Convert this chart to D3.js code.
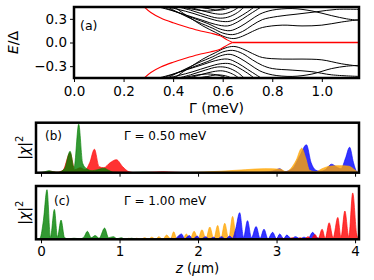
<!DOCTYPE html>
<html>
<head>
<meta charset="utf-8">
<script src="https://cdn.jsdelivr.net/npm/d3@7"></script>
<style>
  body { margin: 0; background: #fff; }
  svg { display: block; font-family: "DejaVu Sans", sans-serif; }
</style>
</head>
<body>
<svg id="chart" width="374" height="280"></svg>
<script>
// ---- panel (a): spectrum E/Delta vs Gamma ----
const gammaTicks = [0.0, 0.2, 0.4, 0.6, 0.8, 1.0];
const energyTicks = [-0.3, 0.0, 0.3];

// bulk states, [Gamma, E]
const upperBands = [
  [[0.40,0.46],[0.46,0.33],[0.52,0.21],[0.57,0.13],[0.61,0.07],[0.645,0.05],[0.68,0.08],[0.72,0.14],[0.76,0.19],[0.84,0.22],[0.92,0.21],[1.0,0.22],[1.08,0.26],[1.15,0.29]],
  [[0.37,0.46],[0.44,0.35],[0.50,0.26],[0.56,0.18],[0.60,0.12],[0.64,0.10],[0.68,0.14],[0.72,0.22],[0.76,0.29],[0.82,0.33],[0.90,0.36],[0.98,0.39],[1.06,0.42],[1.15,0.42]],
  [[0.35,0.46],[0.42,0.38],[0.48,0.31],[0.54,0.24],[0.59,0.17],[0.63,0.15],[0.67,0.20],[0.71,0.28],[0.75,0.36],[0.80,0.41],[0.88,0.43],[0.96,0.40],[1.04,0.34],[1.10,0.30],[1.15,0.28]],
  [[0.33,0.46],[0.40,0.40],[0.46,0.34],[0.52,0.28],[0.57,0.23],[0.62,0.21],[0.66,0.26],[0.70,0.34],[0.74,0.42],[0.76,0.46]],
  [[0.36,0.46],[0.42,0.42],[0.48,0.37],[0.54,0.31],[0.59,0.27],[0.63,0.27],[0.67,0.33],[0.71,0.41],[0.73,0.46]],
  [[0.41,0.46],[0.47,0.41],[0.53,0.35],[0.58,0.31],[0.62,0.32],[0.66,0.38],[0.69,0.46]],
  [[0.45,0.46],[0.51,0.41],[0.56,0.37],[0.60,0.36],[0.64,0.40],[0.67,0.46]],
  [[0.49,0.46],[0.54,0.43],[0.58,0.41],[0.62,0.43],[0.64,0.46]],
  [[0.38,0.46],[0.45,0.44],[0.50,0.41],[0.55,0.40],[0.60,0.43],[0.62,0.46]],
  [[0.47,0.46],[0.53,0.44],[0.58,0.46]]
];
const lowerBands = [
  [[0.40,-0.46],[0.46,-0.33],[0.52,-0.21],[0.57,-0.13],[0.61,-0.07],[0.645,-0.05],[0.68,-0.08],[0.72,-0.14],[0.76,-0.19],[0.84,-0.21],[0.92,-0.21],[1.0,-0.22],[1.08,-0.27],[1.15,-0.30]],
  [[0.37,-0.46],[0.44,-0.35],[0.50,-0.26],[0.56,-0.18],[0.60,-0.12],[0.64,-0.10],[0.68,-0.14],[0.72,-0.22],[0.76,-0.29],[0.80,-0.33],[0.88,-0.35],[0.96,-0.37],[1.04,-0.41],[1.15,-0.43]],
  [[0.35,-0.46],[0.42,-0.38],[0.48,-0.31],[0.54,-0.24],[0.59,-0.17],[0.63,-0.15],[0.67,-0.20],[0.71,-0.28],[0.75,-0.36],[0.80,-0.41],[0.88,-0.43],[0.96,-0.40],[1.04,-0.33],[1.10,-0.30],[1.15,-0.29]],
  [[0.33,-0.46],[0.40,-0.40],[0.46,-0.34],[0.52,-0.28],[0.57,-0.23],[0.62,-0.21],[0.66,-0.26],[0.70,-0.34],[0.74,-0.42],[0.76,-0.46]],
  [[0.36,-0.46],[0.42,-0.42],[0.48,-0.37],[0.54,-0.31],[0.59,-0.27],[0.63,-0.27],[0.67,-0.33],[0.71,-0.41],[0.73,-0.46]],
  [[0.41,-0.46],[0.47,-0.41],[0.53,-0.35],[0.58,-0.31],[0.62,-0.32],[0.66,-0.38],[0.69,-0.46]],
  [[0.45,-0.46],[0.51,-0.41],[0.56,-0.37],[0.60,-0.36],[0.64,-0.40],[0.67,-0.46]],
  [[0.49,-0.46],[0.54,-0.43],[0.58,-0.41],[0.62,-0.43],[0.64,-0.46]],
  [[0.38,-0.46],[0.45,-0.44],[0.50,-0.41],[0.55,-0.40],[0.60,-0.43],[0.62,-0.46]],
  [[0.47,-0.46],[0.53,-0.44],[0.58,-0.46]]
];
// lowest (Majorana) states
const redUpper = [[0.28,0.46],[0.31,0.38],[0.35,0.31],[0.40,0.25],[0.45,0.20],[0.50,0.155],[0.55,0.12],[0.59,0.085],[0.62,0.03],[0.64,0.0]];
const redLower = [[0.28,-0.46],[0.31,-0.38],[0.35,-0.31],[0.40,-0.25],[0.45,-0.20],[0.50,-0.155],[0.55,-0.12],[0.59,-0.085],[0.62,-0.03],[0.64,0.0]];
const redZero = [[0.64,0.0],[1.15,0.0]];

// ---- panels (b), (c): |chi|^2 vs z ----
const zTicks = [0, 1, 2, 3, 4];

const greenB = [[-0.05,0],[0.05,0.02],[0.10,0.04],[0.15,0.02],[0.22,0.01],[0.30,0.08],[0.37,0.43],[0.42,0.10],[0.48,0.97],[0.53,0.19],[0.58,0.08],[0.65,0.04],[0.72,0.06],[0.80,0.09],[0.86,0.05],[0.92,0.01],[1.10,0.0],[1.30,0.01],[1.50,0]];
const redB = [[-0.05,0],[0.05,0.01],[0.12,0.03],[0.20,0.01],[0.28,0.05],[0.37,0.40],[0.43,0.06],[0.50,0.10],[0.56,0.06],[0.62,0.20],[0.68,0.47],[0.74,0.12],[0.80,0.10],[0.88,0.20],[0.96,0.26],[1.04,0.12],[1.12,0.02],[1.20,0],[1.40,0.01],[1.55,0.02],[1.70,0.01],[1.85,0]];
const orangeB = [[1.80,0],[2.00,0.01],[2.30,0.03],[2.60,0.06],[2.85,0.08],[3.05,0.07],[3.12,0.02],[3.18,0.08],[3.25,0.25],[3.32,0.49],[3.37,0.30],[3.42,0.05],[3.50,0.02],[3.58,0.08],[3.68,0.13],[3.80,0.14],[3.92,0.13],[4.00,0.05],[4.04,0]];
const blueB = [[2.70,0],[2.90,0.02],[3.00,0.06],[3.04,0.08],[3.10,0.02],[3.20,0.08],[3.30,0.35],[3.38,0.56],[3.44,0.20],[3.50,0.05],[3.55,0.03],[3.62,0.06],[3.70,0.17],[3.76,0.12],[3.82,0.08],[3.88,0.30],[3.93,0.51],[3.98,0.20],[4.02,0.02],[4.04,0]];

const greenC = [[-0.04,0],[-0.01,0.03],[0.03,0.35],[0.076,0.93],[0.12,0.04],[0.17,0.56],[0.21,0.04],[0.255,0.36],[0.30,0.03],[0.35,0.01],[0.42,0.02],[0.50,0.01],[0.55,0.05],[0.59,0.15],[0.64,0.03],[0.69,0.07],[0.74,0.02],[0.81,0.21],[0.86,0.03],[0.92,0.05],[0.97,0.01],[1.02,0.03],[1.08,0.0],[1.15,0.02],[1.22,0]];
const orangeC = [[0.90,0],[1.00,0.01],[1.06,0.0],[1.12,0.02],[1.17,0.0],[1.22,0.02],[1.27,0.0],[1.32,0.03],[1.37,0.0],[1.41,0.04],[1.46,0.0],[1.50,0.05],[1.55,0.0],[1.60,0.08],[1.65,0.01],[1.69,0.14],[1.73,0.01],[1.77,0.08],[1.81,0.01],[1.85,0.10],[1.90,0.01],[1.95,0.15],[2.00,0.01],[2.05,0.18],[2.10,0.01],[2.15,0.23],[2.20,0.01],[2.25,0.26],[2.29,0.01],[2.34,0.30],[2.39,0.01],[2.44,0.43],[2.49,0.02],[2.55,0.03],[2.62,0]];
const blueC = [[1.60,0],[1.66,0.02],[1.70,0.0],[1.74,0.05],[1.79,0.10],[1.83,0.01],[1.89,0.07],[1.93,0.0],[1.99,0.06],[2.03,0.0],[2.10,0.05],[2.14,0.0],[2.20,0.04],[2.24,0.0],[2.30,0.05],[2.35,0.0],[2.40,0.06],[2.44,0.02],[2.48,0.20],[2.53,0.50],[2.58,0.04],[2.63,0.35],[2.68,0.03],[2.74,0.24],[2.79,0.02],[2.84,0.19],[2.89,0.01],[2.95,0.13],[3.0,0.01],[3.04,0.10],[3.09,0.01],[3.13,0.08],[3.19,0.01],[3.24,0.05],[3.30,0.01],[3.35,0.04],[3.40,0.01],[3.46,0.13],[3.51,0.03],[3.56,0.02],[3.62,0]];
const redC = [[2.80,0],[2.95,0.01],[3.05,0.02],[3.15,0.01],[3.20,0.03],[3.25,0.0],[3.30,0.03],[3.35,0.0],[3.40,0.05],[3.44,0.01],[3.49,0.09],[3.53,0.01],[3.58,0.19],[3.62,0.02],[3.67,0.31],[3.72,0.03],[3.78,0.41],[3.82,0.04],[3.87,0.53],[3.92,0.05],[3.97,0.87],[4.02,0.10],[4.04,0]];

const svg = d3.select('#chart');
const tickFont = 13.5;

// frames, in pixels
const A = { left: 74, right: 359, top: 7, bottom: 78 };
const B = { left: 36, right: 359, top: 122.7, bottom: 172.7 };
const C = { left: 36, right: 359, top: 186, bottom: 239.3 };

function styleAxis(g, labels) {
  g.select('.domain').remove();
  g.selectAll('.tick line').attr('stroke', '#000').attr('stroke-width', 1);
  g.selectAll('.tick text')
    .attr('fill', '#000')
    .style('font-size', tickFont + 'px')
    .style('font-family', '"DejaVu Sans", sans-serif');
  if (!labels) g.selectAll('.tick text').remove();
}

function frame(box) {
  svg.append('rect')
    .attr('x', box.left).attr('y', box.top)
    .attr('width', box.right - box.left).attr('height', box.bottom - box.top)
    .attr('fill', 'none').attr('stroke', '#000').attr('stroke-width', 2.5);
}

function clip(id, box) {
  svg.append('clipPath').attr('id', id)
    .append('rect')
    .attr('x', box.left).attr('y', box.top)
    .attr('width', box.right - box.left).attr('height', box.bottom - box.top);
}

// --- panel (a) ---
const xA = d3.scaleLinear().domain([0, 1.15]).range([A.left, A.right]);
const yA = d3.scaleLinear().domain([-0.45, 0.45]).range([A.bottom, A.top]);
clip('clipA', A);

const bandLine = d3.line()
  .x(d => xA(d[0])).y(d => yA(d[1]))
  .curve(d3.curveCatmullRom.alpha(0.5));

const gA = svg.append('g').attr('clip-path', 'url(#clipA)');
gA.selectAll('path.band')
  .data(upperBands.concat(lowerBands))
  .join('path')
  .attr('class', 'band')
  .attr('d', bandLine)
  .attr('fill', 'none').attr('stroke', '#000').attr('stroke-width', 1);

gA.selectAll('path.mzm')
  .data([redUpper, redLower])
  .join('path')
  .attr('class', 'mzm')
  .attr('d', bandLine)
  .attr('fill', 'none').attr('stroke', 'red').attr('stroke-width', 1.1);

gA.append('path')
  .datum(redZero)
  .attr('d', d3.line().x(d => xA(d[0])).y(d => yA(d[1])))
  .attr('fill', 'none').attr('stroke', 'red').attr('stroke-width', 1.5);

svg.append('g')
  .attr('transform', `translate(0,${A.bottom})`)
  .call(d3.axisBottom(xA).tickValues(gammaTicks).tickFormat(d3.format('.1f')).tickSize(4).tickPadding(4))
  .call(g => styleAxis(g, true));

svg.append('g')
  .attr('transform', `translate(${A.left},0)`)
  .call(d3.axisLeft(yA).tickValues(energyTicks).tickFormat(d3.format('.1f')).tickSize(4).tickPadding(3))
  .call(g => styleAxis(g, true));

frame(A);

svg.append('text').attr('x', 80).attr('y', 29.5)
  .attr('font-size', 12.5).text('(a)');

svg.append('text').attr('x', (A.left + A.right) / 2).attr('y', 113)
  .attr('text-anchor', 'middle').attr('font-size', 14).text('Γ (meV)');

const eLabel = svg.append('text')
  .attr('transform', `translate(18,${(A.top + A.bottom) / 2}) rotate(-90)`)
  .attr('text-anchor', 'middle').attr('font-size', 14);
eLabel.append('tspan').attr('font-style', 'italic').text('E');
eLabel.append('tspan').text('/Δ');

// --- panels (b) and (c) ---
const xZ = d3.scaleLinear().domain([-0.064, 4.05]).range([B.left, B.right]);

function densityPanel(box, id, series, labels) {
  const y = d3.scaleLinear().domain([0, 1]).range([box.bottom, box.top]);
  clip(id, box);
  const area = d3.area()
    .x(d => xZ(d[0])).y0(y(0)).y1(d => y(d[1]))
    .curve(d3.curveMonotoneX);
  const g = svg.append('g').attr('clip-path', `url(#${id})`);
  g.selectAll('path')
    .data(series)
    .join('path')
    .attr('d', d => area(d.values))
    .attr('fill', d => d.color).attr('fill-opacity', 0.8)
    .attr('stroke', d => d.color).attr('stroke-opacity', 0.8).attr('stroke-width', 0.8);

  svg.append('g')
    .attr('transform', `translate(0,${box.bottom})`)
    .call(d3.axisBottom(xZ).tickValues(zTicks).tickFormat(d3.format('d')).tickSize(4).tickPadding(3))
    .call(g => styleAxis(g, labels));

  frame(box);

  const t = svg.append('text')
    .attr('transform', `translate(29,${(box.top + box.bottom) / 2}) rotate(-90)`)
    .attr('text-anchor', 'middle').attr('font-size', 14);
  t.append('tspan').text('|');
  t.append('tspan').attr('font-style', 'italic').text('χ');
  t.append('tspan').text('|');
  t.append('tspan').attr('dy', -6).attr('font-size', 10).text('2');
}

densityPanel(B, 'clipB', [
  { color: 'blue', values: blueB },
  { color: 'orange', values: orangeB },
  { color: 'red', values: redB },
  { color: 'green', values: greenB }
], false);

densityPanel(C, 'clipC', [
  { color: 'orange', values: orangeC },
  { color: 'blue', values: blueC },
  { color: 'red', values: redC },
  { color: 'green', values: greenC }
], true);

svg.append('text').attr('x', 45).attr('y', 139.5).attr('font-size', 12).text('(b)');
svg.append('text').attr('x', 124).attr('y', 139.5).attr('font-size', 12).text('Γ = 0.50 meV');
svg.append('text').attr('x', 54).attr('y', 205).attr('font-size', 12).text('(c)');
svg.append('text').attr('x', 124).attr('y', 205).attr('font-size', 12).text('Γ = 1.00 meV');

const zLabel = svg.append('text')
  .attr('x', (C.left + C.right) / 2).attr('y', 273)
  .attr('text-anchor', 'middle').attr('font-size', 13.5);
zLabel.append('tspan').attr('font-style', 'italic').text('z');
zLabel.append('tspan').text(' (');
zLabel.append('tspan').attr('font-style', 'italic').text('μ');
zLabel.append('tspan').text('m)');
</script>
</body>
</html>
